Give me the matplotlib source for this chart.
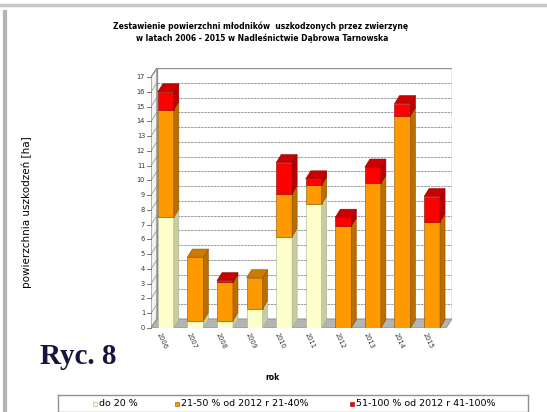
import numpy as np
import matplotlib
matplotlib.use('Agg')
import matplotlib.pyplot as plt

# data (ha)
years = ['2006', '2007', '2008', '2009', '2010', '2011', '2012', '2013', '2014', '2015']
do20 = [7.5, 0.5, 0.5, 1.3, 6.2, 8.4, 0.0, 0.0, 0.0, 0.0]
mid = [7.3, 4.3, 2.6, 2.1, 2.9, 1.3, 6.9, 9.8, 14.4, 7.2]
high = [1.2, 0.0, 0.1, 0.0, 2.1, 0.4, 0.6, 1.1, 0.8, 1.7]
yticks = list(range(0, 18))

labels = ['do 20 %', '21-50 % od 2012 r 21-40%', '51-100 % od 2012 r 41-100%']
front = ['#FFFFCC', '#FF9900', '#FF0000']
side = ['#C8CCA0', '#B86E00', '#B80000']
top = ['#E6E6B0', '#CC7A00', '#CC0000']
edge = ['#9DB08A', '#8A5200', '#8A0000']

W, H = 547, 412
fig = plt.figure(figsize=(W / 100, H / 100), dpi=100)


def px(x, y):
    return x / W, 1 - y / H


# axes: front-left edge at x=151, back wall right at 452; y=0 at 328
ax = fig.add_axes([151 / W, 1 - 328 / H, (452 - 151) / W, 260 / H])
ax.set_xlim(-0.5, 9.675)
ax.set_ylim(0, 17.62)
ax.axis('off')

wdx, wdy = 0.2, 0.61   # wall depth
bdx, bdy = 0.17, 0.55  # bar depth
bw = 0.54
xmin, xmax = -0.5, 9.675 - wdx

# back wall
ax.fill([xmin + wdx, xmax + wdx, xmax + wdx, xmin + wdx],
        [wdy, wdy, 17 + wdy, 17 + wdy], facecolor='white', edgecolor='#A0A0A0', lw=1, zorder=1)
for v in yticks[1:]:
    ax.plot([xmin + wdx, xmax + wdx], [v + wdy, v + wdy], color='#8C8C8C', lw=0.6,
            ls=(0, (3, 1)), zorder=1.5)
    ax.plot([xmin, xmin + wdx], [v, v + wdy], color='#8C8C8C', lw=0.5, zorder=1.5)
# left wall
ax.fill([xmin, xmin + wdx, xmin + wdx, xmin], [0, wdy, 17 + wdy, 17],
        facecolor='#F2F2F2', edgecolor='#808080', lw=0.8, zorder=1.2)
# floor
ax.fill([xmin, xmax, xmax + wdx, xmin + wdx], [0, 0, wdy, wdy],
        facecolor='#B4B4B4', edgecolor='#8C8C8C', lw=0.6, zorder=1.3)

# y ticks on front-left edge
for v in yticks:
    ax.plot([xmin - 0.12, xmin], [v, v], color='#606060', lw=0.6, clip_on=False)
    ax.text(xmin - 0.2, v, str(v), ha='right', va='center', fontsize=4.8, color='#333333')

# stacked 3d bars
series = [do20, mid, high]
for i in range(len(years)):
    base = 0.0
    last = None
    for k, vals in enumerate(series):
        v = vals[i]
        if v <= 0:
            continue
        x0, x1 = i - bw / 2, i + bw / 2
        b, t = base, base + v
        ax.fill([x0, x1, x1, x0], [b, b, t, t], facecolor=front[k], edgecolor=edge[k],
                lw=0.4, zorder=3)
        ax.fill([x1, x1 + bdx, x1 + bdx, x1], [b, b + bdy, t + bdy, t], facecolor=side[k],
                edgecolor=edge[k], lw=0.4, zorder=3)
        base = t
        last = k
    x0, x1 = i - bw / 2, i + bw / 2
    ax.fill([x0, x1, x1 + bdx, x0 + bdx], [base, base, base + bdy, base + bdy],
            facecolor=top[last], edgecolor=edge[last], lw=0.4, zorder=3)
    ax.text(i - 0.25, -0.35, years[i], rotation=-65, rotation_mode='anchor',
            ha='left', va='center', fontsize=4.8, color='#333333')

# titles and labels
fig.text(*px(261, 26), 'Zestawienie powierzchni młodników  uszkodzonych przez zwierzynę',
         ha='center', va='center', fontsize=5.5, fontweight='bold')
fig.text(*px(262, 38), 'w latach 2006 - 2015 w Nadleśnictwie Dąbrowa Tarnowska',
         ha='center', va='center', fontsize=5.5, fontweight='bold')
fig.text(*px(27, 212), 'powierzchnia uszkodzeń [ha]', rotation=90, ha='center',
         va='center', fontsize=7.5)
fig.text(*px(272, 377), 'rok', ha='center', va='center', fontsize=5.5, fontweight='bold')
fig.text(*px(78, 357), 'Ryc. 8', ha='center', va='center', fontsize=21,
         fontweight='bold', family='Liberation Serif', color='#16163C')

# page borders
fig.add_artist(plt.Line2D([0, 1], [1 - 5 / H, 1 - 5 / H], color='#C8C8C8', lw=2.5))
fig.add_artist(plt.Line2D([5 / W, 5 / W], [0, 1 - 12 / H], color='#B4B4B4', lw=3))

# legend box
lax = fig.add_axes([58 / W, 0, (528 - 58) / W, (H - 395) / H])
lax.set_xlim(58, 528)
lax.set_ylim(412, 395)
lax.set_xticks([])
lax.set_yticks([])
for s in lax.spines.values():
    s.set_color('#909090')
    s.set_linewidth(1)
lx = [95, 177, 352]
for k in range(3):
    lax.scatter([lx[k]], [403.5], marker='s', s=12, facecolor=front[k], edgecolor=edge[k],
                linewidth=0.4)
    lax.text(lx[k] + 4, 403.5, labels[k], ha='left', va='center', fontsize=6.8)

fig.savefig('out.png', dpi=100)
